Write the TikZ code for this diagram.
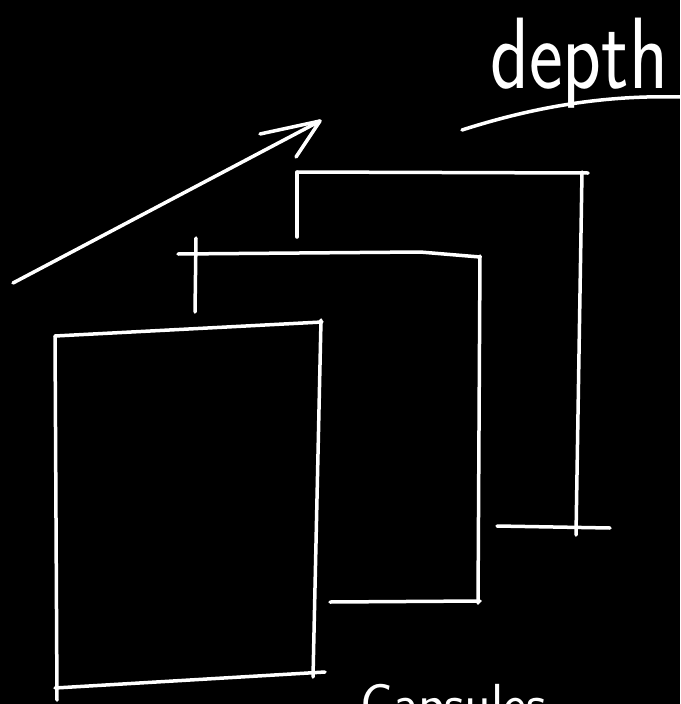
\documentclass[tikz,border=0pt]{standalone}
\begin{document}
\begin{tikzpicture}[x=1pt,y=-1pt,
    chalk/.style={draw=white,line width=3.5pt,line cap=round,line join=round},
    chalktext/.style={text=white,font=\sffamily\fontsize{70}{70}\selectfont,inner sep=0pt}]
    \fill[black] (0,0) rectangle (680,704);
    \clip (0,0) rectangle (680,704);

    % back sheet
    \draw[chalk] (297,172) -- (297,237);
    \draw[chalk] (297,172) -- (588,173);
    \draw[chalk] (582,172) -- (576,535);
    \draw[chalk] (497,526) -- (610,528);

    % middle sheet
    \draw[chalk] (196,238) -- (195,312);
    \draw[chalk] (178,254) -- (420,252) -- (480,257);
    \draw[chalk] (480,256) -- (478,603);
    \draw[chalk] (330,602) -- (480,601);

    % front sheet
    \draw[chalk] (55,336) -- (322,322);
    \draw[chalk] (321,320) -- (313,677);
    \draw[chalk] (55,336) -- (57,700);
    \draw[chalk] (55,688) -- (325,672);

    % depth arrow
    \coordinate (tail) at (13,283);
    \coordinate (tip) at (320,121);
    \draw[chalk] (tail) -- (tip);
    \draw[chalk] (260,134) -- (tip) -- (296,157);

    % labels
    \node[chalktext,anchor=base west] (depth) at (490,88) {\scalebox{1.15}[1.45]{depth}};
    \draw[chalk] (462,130) .. controls (540,105) and (610,95) .. (682,97);
    \node[chalktext,anchor=base west,font=\sffamily\fontsize{55}{55}\selectfont] (capsules) at (360,722) {Capsules};
\end{tikzpicture}
\end{document}
